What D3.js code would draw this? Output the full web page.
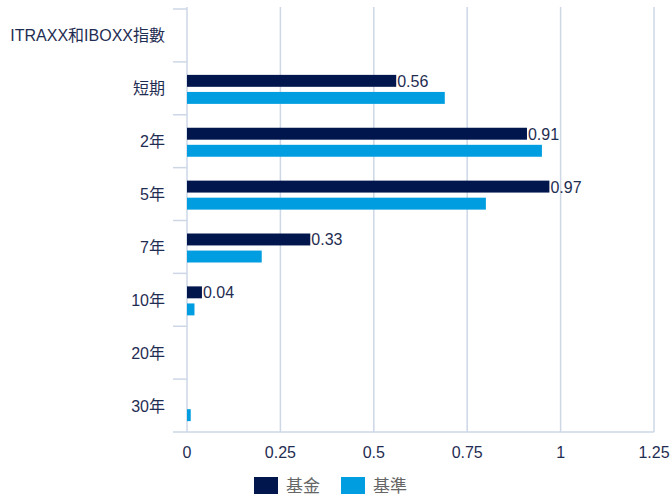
<!DOCTYPE html>
<html>
<head>
<meta charset="utf-8">
<script src="https://cdn.jsdelivr.net/npm/d3@7"></script>
<style>
  body { margin: 0; background: #fff; }
  text { font-family: "Liberation Sans", Arial, "Noto Sans CJK TC", sans-serif; }
</style>
</head>
<body>
<div id="chart"></div>
<script>
const categories = ["ITRAXX和IBOXX指數", "短期", "2年", "5年", "7年", "10年", "20年", "30年"];
const fundValues = [0, 0.56, 0.91, 0.97, 0.33, 0.04, 0, 0];
const benchValues = [0, 0.69, 0.95, 0.80, 0.20, 0.02, 0, 0.01];
const seriesNames = ["基金", "基準"];
const xTicks = [0, 0.25, 0.5, 0.75, 1, 1.25];

const width = 670;
const height = 497;
const margin = {top: 9, left: 187, right: 16, bottom: 65};
const colors = ["#00164d", "#009ee0"];

const svg = d3.select("#chart")
    .append("svg")
    .attr("width", width)
    .attr("height", height);

const x = d3.scaleLinear()
    .domain([0, 1.25])
    .range([margin.left, width - margin.right]);

const y = d3.scaleBand()
    .domain(categories)
    .range([margin.top, height - margin.bottom]);

const inner = d3.scaleBand()
    .domain(seriesNames)
    .range([13, 42])
    .paddingInner(0.3);

// grid lines
svg.append("g")
    .selectAll("line")
    .data(xTicks)
    .enter()
    .append("line")
    .attr("x1", d => x(d))
    .attr("x2", d => x(d))
    .attr("y1", margin.top - 2)
    .attr("y2", height - margin.bottom)
    .attr("stroke", "#cdd7e6")
    .attr("stroke-width", 1.5);

// bottom axis line
svg.append("line")
    .attr("x1", margin.left - 14)
    .attr("x2", x(1.25))
    .attr("y1", height - margin.bottom)
    .attr("y2", height - margin.bottom)
    .attr("stroke", "#cdd7e6")
    .attr("stroke-width", 1.5);

// category separators on the left
svg.append("g")
    .selectAll("line")
    .data(categories)
    .enter()
    .append("line")
    .attr("x1", margin.left - 14)
    .attr("x2", margin.left)
    .attr("y1", d => y(d))
    .attr("y2", d => y(d))
    .attr("stroke", "#cdd7e6")
    .attr("stroke-width", 1.5);

// x tick labels
svg.append("g")
    .selectAll("text")
    .data(xTicks)
    .enter()
    .append("text")
    .attr("x", d => x(d))
    .attr("y", height - margin.bottom + 26)
    .attr("text-anchor", "middle")
    .style("font-size", "16px")
    .attr("fill", "#1f2d52")
    .text(d => d);

// y labels
svg.append("g")
    .selectAll("text")
    .data(categories)
    .enter()
    .append("text")
    .attr("x", margin.left - 22)
    .attr("y", d => y(d) + y.bandwidth() / 2 + 6)
    .attr("text-anchor", "end")
    .style("font-size", "16px")
    .attr("fill", "#1f2d52")
    .text(d => d);

const rows = categories.map((c, i) => ({cat: c, values: [fundValues[i], benchValues[i]]}));

const groups = svg.append("g")
    .selectAll("g")
    .data(rows)
    .enter()
    .append("g")
    .attr("transform", d => "translate(0," + y(d.cat) + ")");

groups.selectAll("rect")
    .data(d => d.values.map((v, j) => ({name: seriesNames[j], value: v, idx: j})))
    .enter()
    .append("rect")
    .attr("x", x(0))
    .attr("y", d => inner(d.name))
    .attr("width", d => x(d.value) - x(0))
    .attr("height", inner.bandwidth())
    .attr("fill", d => colors[d.idx]);

// value labels on fund bars
groups.filter(d => d.values[0] > 0)
    .append("text")
    .attr("x", d => x(d.values[0]) + 1)
    .attr("y", inner(seriesNames[0]) + inner.bandwidth() / 2 + 6)
    .style("font-size", "16px")
    .attr("fill", "#1f2d52")
    .text(d => d.values[0]);

// legend
const legend = svg.append("g")
    .attr("transform", "translate(254,477)");

const items = legend.selectAll("g")
    .data(seriesNames)
    .enter()
    .append("g")
    .attr("transform", (d, i) => "translate(" + i * 87 + ",0)");

items.append("rect")
    .attr("width", 24)
    .attr("height", 17)
    .attr("fill", (d, i) => colors[i]);

items.append("text")
    .attr("x", 32)
    .attr("y", 15)
    .style("font-size", "17px")
    .attr("fill", "#666")
    .text(d => d);
</script>
</body>
</html>
